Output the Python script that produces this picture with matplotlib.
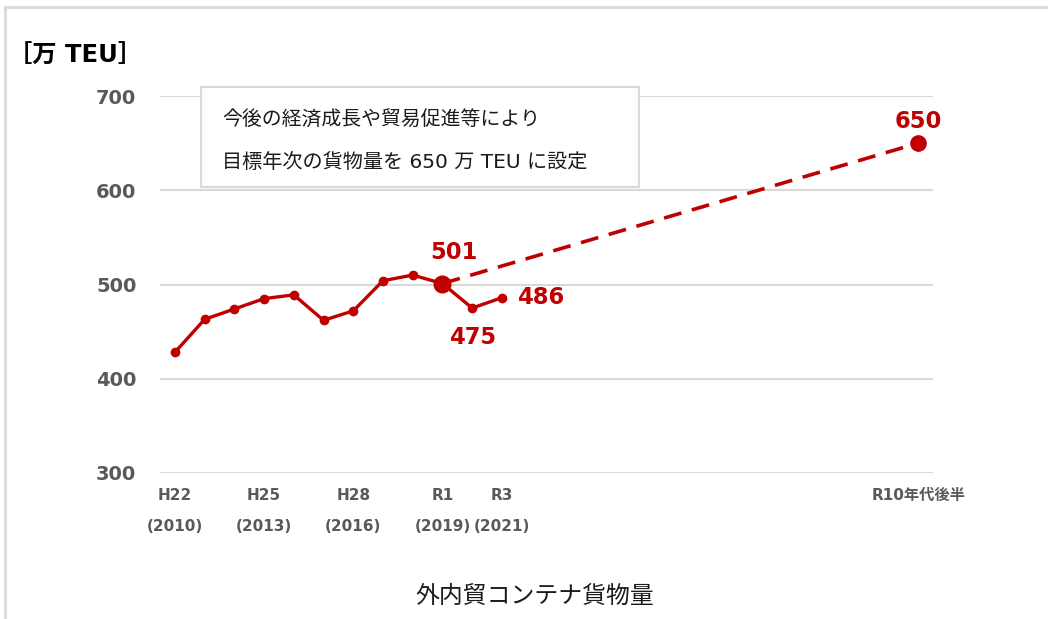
import matplotlib
matplotlib.use("Agg")
import matplotlib.pyplot as plt
from matplotlib.lines import Line2D
from matplotlib.patches import Rectangle

plt.rcParams['font.family'] = ['DejaVu Sans', 'Noto Sans CJK JP']

# Annual container cargo volume (10k TEU), H22 (2010) .. R3 (2021)
years = list(range(2010, 2022))
volume = [428, 463, 474, 485, 489, 462, 472, 504, 510, 501, 475, 486]
# Target for the latter half of the R10s
target_year = 2035
target_value = 650

tick_years = [2010, 2013, 2016, 2019, 2021, 2035]
tick_labels = ["H22\n(2010)", "H25\n(2013)", "H28\n(2016)", "R1\n(2019)", "R3\n(2021)", "R10年代後半"]

red = "#C00000"
gray_text = "#595959"
grid_gray = "#d9d9d9"

fig = plt.figure(figsize=(10.48, 6.19), dpi=100)
ax = fig.add_axes([160 / 1048, 1 - 473 / 619, 773 / 1048, 377 / 619])

ax.set_xlim(years[0] - 0.5, target_year + 0.5)
ax.set_ylim(300, 700)
ax.set_yticks([300, 400, 500, 600, 700])
ax.yaxis.grid(True, color=grid_gray, linewidth=1.5)
ax.set_axisbelow(True)
for s in ax.spines.values():
    s.set_visible(False)
ax.tick_params(axis='both', length=0)
ax.tick_params(axis='y', pad=17, labelsize=14, labelcolor=gray_text)
for lbl in ax.get_yticklabels():
    lbl.set_fontweight('bold')

ax.set_xticks(tick_years)
ax.set_xticklabels(tick_labels, fontsize=11, fontweight='bold', color=gray_text)
ax.tick_params(axis='x', pad=11)
for lbl in ax.get_xticklabels():
    lbl.set_linespacing(2.3)
    lbl.set_verticalalignment('top')

# Dashed projection from R1 to the target
i_r1 = years.index(2019)
ax.plot([years[i_r1], target_year], [volume[i_r1], target_value], color=red,
        linewidth=2.6, linestyle=(0, (5, 3)), zorder=3)

# Actual series
ax.plot(years, volume, color=red, linewidth=2.4, marker='o', markersize=6, zorder=4)
ax.plot([years[i_r1]], [volume[i_r1]], 'o', color=red, markersize=12, zorder=5)
ax.plot([target_year], [target_value], 'o', color=red, markersize=11, zorder=5)

# Value labels
lab_kw = dict(color=red, fontsize=16.3, fontweight='bold')
ax.annotate(f"{volume[i_r1]}", (years[i_r1], volume[i_r1]), xytext=(11, 31),
            textcoords='offset pixels', ha='center', va='center', **lab_kw)
i_r2 = years.index(2020)
ax.annotate(f"{volume[i_r2]}", (years[i_r2], volume[i_r2]), xytext=(1, -29),
            textcoords='offset pixels', ha='center', va='center', **lab_kw)
i_r3 = years.index(2021)
ax.annotate(f"{volume[i_r3]}", (years[i_r3], volume[i_r3]), xytext=(16, 0),
            textcoords='offset pixels', ha='left', va='center', **lab_kw)
ax.annotate(f"{target_value}", (target_year, target_value), xytext=(0, 22),
            textcoords='offset pixels', ha='center', va='center', **lab_kw)

# Note box
fig.patches.append(Rectangle((201 / 1048, 1 - 187 / 619), 438 / 1048, 100 / 619,
                             transform=fig.transFigure, facecolor='white',
                             edgecolor=grid_gray, linewidth=1.5, zorder=6))
fig.text(222 / 1048, 1 - 120 / 619, "今後の経済成長や貿易促進等により",
         fontsize=14.3, color='#1a1a1a', va='center', ha='left', zorder=7)
fig.text(222 / 1048, 1 - 162 / 619, "目標年次の貨物量を 650 万 TEU に設定",
         fontsize=14.5, color='#1a1a1a', va='center', ha='left', zorder=7)

# Unit label and caption
fig.text(8 / 1048, 1 - 56 / 619, "［万 TEU］", fontsize=17.5, fontweight='bold',
         color='black', va='center', ha='left')
fig.text(535 / 1048, 1 - 596 / 619, "外内貿コンテナ貨物量", fontsize=17.2,
         color='#1a1a1a', va='center', ha='center', family=['Noto Sans CJK JP'])

# Chart-area border (top and left edges)
fig.add_artist(Line2D([5 / 1048, 5 / 1048], [0, 1 - 7 / 619], transform=fig.transFigure,
                      color=grid_gray, linewidth=2))
fig.add_artist(Line2D([5 / 1048, 1], [1 - 7 / 619, 1 - 7 / 619], transform=fig.transFigure,
                      color=grid_gray, linewidth=2))

fig.savefig("out.png", dpi=100)
